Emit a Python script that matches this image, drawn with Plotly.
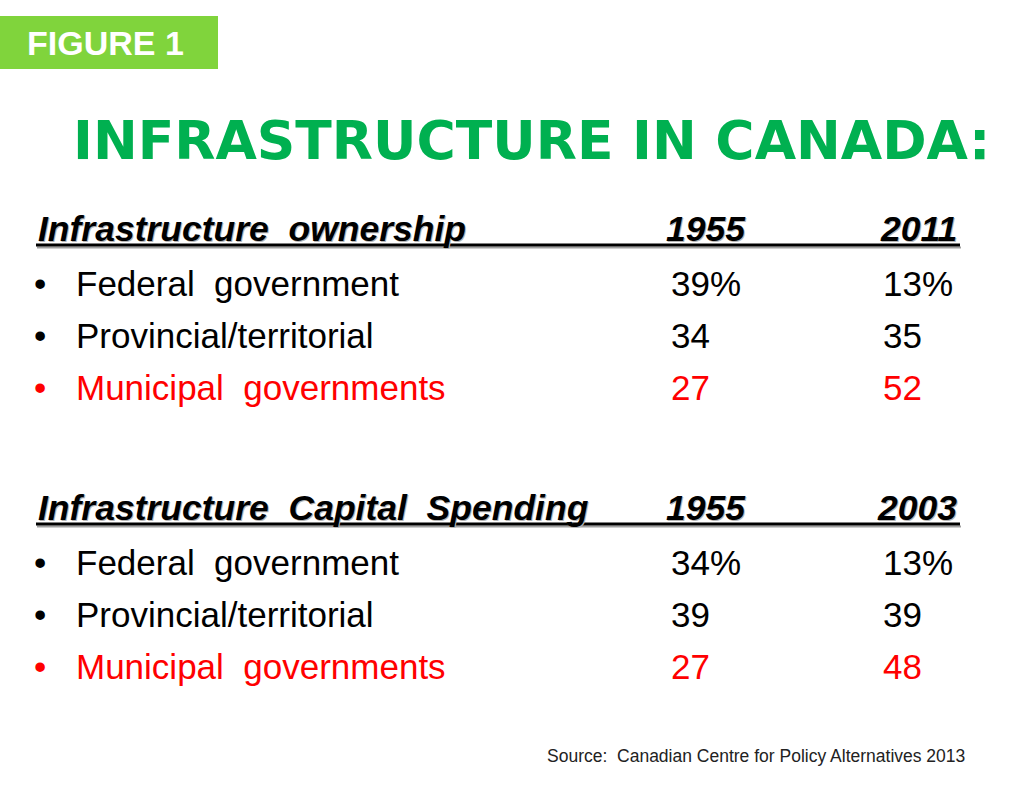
import plotly.graph_objects as go

# ---- data ----
badge_text = "FIGURE 1"
title_text = "INFRASTRUCTURE IN CANADA:"
section_titles = ["Infrastructure ownership", "Infrastructure Capital Spending"]
section_years = [["1955", "2011"], ["1955", "2003"]]
categories = ["Federal government", "Provincial/territorial", "Municipal governments"]
ownership_1955 = [39, 34, 27]
ownership_2011 = [13, 35, 52]
spending_1955 = [34, 39, 27]
spending_2003 = [13, 39, 48]
source_text = "Source:  Canadian Centre for Policy Alternatives 2013"

sections = [
    (section_titles[0], section_years[0], [ownership_1955, ownership_2011]),
    (section_titles[1], section_years[1], [spending_1955, spending_2003]),
]

W, H = 1024, 794
GREEN_BADGE = "#80D43C"
GREEN_TITLE = "#00B050"
RED = "#FF0000"
FONT = "Liberation Sans, Arial, sans-serif"


def wide(s):
    # slide text uses a slightly wider word spacing
    return s.replace(" ", " \u00a0")


fig = go.Figure()
fig.update_layout(
    width=W, height=H, margin=dict(l=0, r=0, t=0, b=0),
    paper_bgcolor="white", plot_bgcolor="white", showlegend=False,
    xaxis=dict(range=[0, W], visible=False, fixedrange=True),
    yaxis=dict(range=[H, 0], visible=False, fixedrange=True),
)

shapes = []
ann = []

# badge
shapes.append(dict(type="rect", x0=0, x1=218, y0=16, y1=69, xref="x", yref="y",
                   fillcolor=GREEN_BADGE, line=dict(width=0), layer="below"))
ann.append(dict(x=105, y=43, text=f"<b>{badge_text}</b>", showarrow=False,
                font=dict(family=FONT, size=34, color="white"), xanchor="center", yanchor="middle"))

# title
ann.append(dict(x=531, y=140, text=f"<b>{title_text}</b>", showarrow=False,
                font=dict(family="DejaVu Sans, Verdana, sans-serif", size=53.5, color=GREEN_TITLE),
                xanchor="center", yanchor="middle"))

col_x = [669, 881]
col_right = [748, 959]
header_y = [229, 508]
row_gap = 52
HFS = 35.5
RFS = 35

for s_i, (stitle, years, cols) in enumerate(sections):
    hy = header_y[s_i]
    uy = hy + 16
    # underline with shadow
    shapes.append(dict(type="line", x0=37, x1=961, y0=uy + 2.5, y1=uy + 2.5, xref="x", yref="y",
                       line=dict(color="#a0a0a0", width=2)))
    shapes.append(dict(type="line", x0=36, x1=960, y0=uy, y1=uy, xref="x", yref="y",
                       line=dict(color="black", width=3)))
    for dx, col in [(1.2, "#b5b5b5"), (0, "black")]:
        ann.append(dict(x=36 + dx, y=hy + dx, text=f"<b><i>{wide(stitle)}</i></b>", showarrow=False,
                        font=dict(family=FONT, size=HFS, color=col), xanchor="left", yanchor="middle"))
        for c_i, yr in enumerate(years):
            ann.append(dict(x=col_right[c_i] + dx, y=hy + dx, text=f"<b><i>{yr}</i></b>", showarrow=False,
                            font=dict(family=FONT, size=HFS, color=col), xanchor="right", yanchor="middle"))
    for r_i, cat in enumerate(categories):
        ry = hy + 54 + r_i * row_gap
        color = RED if r_i == len(categories) - 1 else "black"
        ann.append(dict(x=32, y=ry, text="•", showarrow=False,
                        font=dict(family=FONT, size=RFS, color=color), xanchor="left", yanchor="middle"))
        ann.append(dict(x=74, y=ry, text=wide(cat), showarrow=False,
                        font=dict(family=FONT, size=RFS, color=color), xanchor="left", yanchor="middle"))
        for c_i, vals in enumerate(cols):
            txt = f"{vals[r_i]}%" if r_i == 0 else f"{vals[r_i]}"
            ann.append(dict(x=col_x[c_i], y=ry, text=txt, showarrow=False,
                            font=dict(family=FONT, size=RFS, color=color), xanchor="left", yanchor="middle"))

# source
ann.append(dict(x=967, y=756, text=source_text, showarrow=False,
                font=dict(family=FONT, size=17.5, color="#222222"), xanchor="right", yanchor="middle"))

for a in ann:
    a.setdefault("xref", "x")
    a.setdefault("yref", "y")
fig.update_layout(shapes=shapes, annotations=ann)

fig.write_html("out.html", config=dict(displayModeBar=False),
               post_script="document.body.style.margin='0';document.body.style.overflow='hidden';")
